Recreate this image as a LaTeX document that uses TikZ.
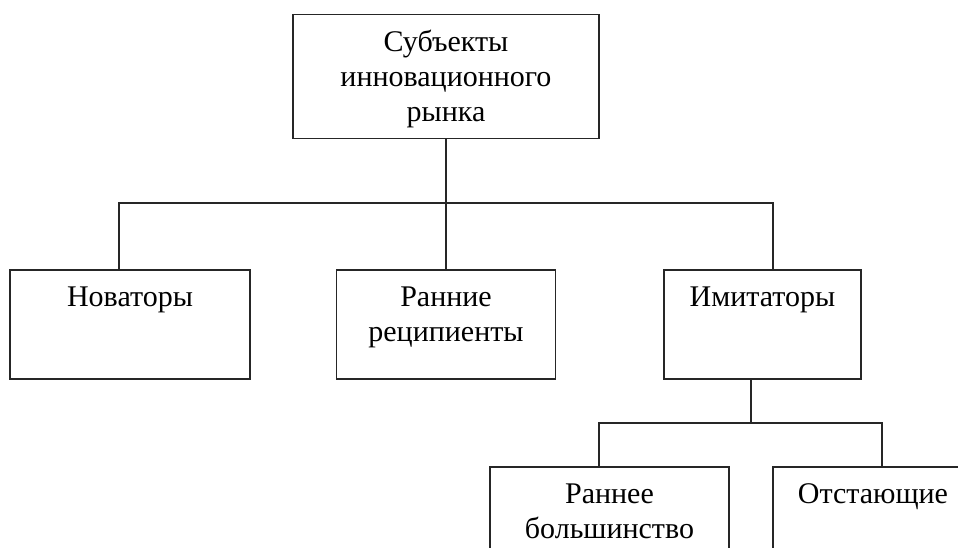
\documentclass[tikz,border=0pt]{standalone}
\usepackage{fontspec}
\setmainfont{Liberation Serif}

\begin{document}
\begin{tikzpicture}[x=1pt, y=-1pt, line width=1.5pt, draw=black!85,
  box/.style={draw, anchor=north, align=center, inner xsep=0pt, inner ysep=17pt,
    font=\fontsize{30}{35}\selectfont},
  one/.style={text height=20pt, text depth=55pt},
  two/.style={text height=55pt, text depth=20pt},
  ]
  \useasboundingbox (0,0) rectangle (958,548);
  \clip (0,0) rectangle (958,548);

  % top level
  \node[box, minimum width=306pt, text height=90pt, text depth=0pt] (subj) at (446,14) {Субъекты\\инновационного\\рынка};

  % second level
  \node[box, one, minimum width=240pt] (nov) at (130,269) {Новаторы};
  \node[box, two, minimum width=219pt] (early) at (446,269) {Ранние\\реципиенты};
  \node[box, one, minimum width=197pt] (imit) at (762.5,269) {Имитаторы};

  % third level
  \node[box, two, minimum width=239pt] (maj) at (609.5,466) {Раннее\\большинство};
  \node[box, one, minimum width=200pt] (lag) at (873,466) {Отстающие};

  % connectors
  \coordinate (busA) at (119,203);
  \coordinate (busB) at (773,203);
  \draw (subj.south) -- (subj.south |- busA);
  \draw (busA |- nov.north) -- (busA) -- (busB) -- (busB |- imit.north);
  \draw (subj.south |- busA) -- (early.north);

  \coordinate (tap) at (751,423);
  \coordinate (busC) at (599,423);
  \coordinate (busD) at (882,423);
  \draw (tap |- imit.south) -- (tap);
  \draw (busC |- maj.north) -- (busC) -- (busD) -- (busD |- lag.north);
\end{tikzpicture}
\end{document}
